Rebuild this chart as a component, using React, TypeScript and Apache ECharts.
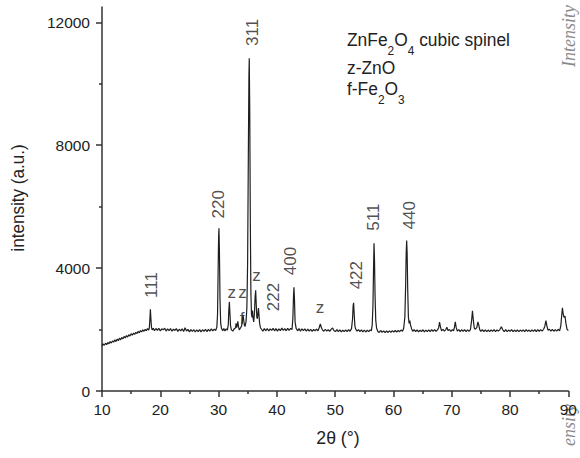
import React, { useEffect, useRef } from "react";
import * as echarts from "echarts";

// XRD pattern: [2θ (deg), intensity (a.u.)]
const pattern: [number, number][] = [
  [10.0,1470],[10.2,1530],[10.4,1490],[10.6,1555],[10.8,1510],[11.0,1580],[11.2,1535],[11.4,1610],[11.6,1560],[11.8,1630],
  [12.0,1590],[12.2,1665],[12.4,1610],[12.6,1690],[12.8,1640],[13.0,1720],[13.2,1665],[13.4,1745],[13.6,1700],[13.8,1775],
  [14.0,1730],[14.2,1805],[14.4,1755],[14.6,1830],[14.8,1790],[15.0,1865],[15.2,1815],[15.4,1885],[15.6,1840],[15.8,1910],
  [16.0,1870],[16.2,1940],[16.4,1895],[16.6,1965],[16.8,1925],[17.0,1990],[17.2,1945],[17.4,2010],[17.6,1960],[17.8,2030],
  [18.0,1980],[18.12,2060],[18.22,2350],[18.3,2660],[18.38,2380],[18.48,2090],[18.6,1990],[18.8,2040],
  [19.0,1960],[19.25,2035],[19.5,1975],[19.75,2040],[20.0,1955],[20.25,2025],[20.5,1990],[20.75,2045],[21.0,1950],[21.25,2020],
  [21.5,1965],[21.75,2035],[22.0,1945],[22.25,2015],[22.5,1970],[22.75,2030],[23.0,1940],[23.25,2010],[23.5,1955],[23.75,2025],
  [24.0,1935],[24.25,2060],[24.5,1950],[24.75,2005],[25.0,1925],[25.25,2000],[25.5,1940],[25.75,1995],[26.0,1920],[26.25,1990],
  [26.5,1935],[26.75,2000],[27.0,1925],[27.25,1995],[27.5,1940],[27.75,2010],[28.0,1935],[28.25,2005],[28.5,1950],[28.75,2020],
  [29.0,1955],[29.25,2015],[29.5,1970],
  [29.7,2080],[29.82,2500],[29.92,3900],[30.0,5000],[30.06,5300],[30.14,4600],[30.24,3000],[30.36,2200],[30.5,2040],
  [30.7,1960],[30.9,2030],[31.1,1955],[31.3,2025],[31.5,1980],[31.66,2150],[31.76,2650],[31.85,2900],[31.94,2550],
  [32.05,2120],[32.2,1990],[32.45,1950],[32.7,2030],[32.9,2050],[33.0,2200],[33.1,2060],[33.22,2150],[33.3,2270],
  [33.4,2110],[33.55,1990],[33.75,2050],[33.95,2120],[34.08,2300],[34.2,2470],[34.3,2320],[34.42,2150],[34.55,2100],
  [34.7,2250],[34.85,2700],[34.98,4200],[35.1,7600],[35.2,10200],[35.26,10830],[35.34,9200],[35.44,5600],[35.54,3200],
  [35.64,2500],[35.74,2400],[35.82,2620],[35.9,2400],[36.02,2250],[36.14,2500],[36.26,3050],[36.36,3280],[36.46,2800],
  [36.56,2400],[36.66,2350],[36.76,2550],[36.84,2700],[36.92,2500],[37.04,2200],[37.18,2060],
  [37.35,2010],[37.6,1950],[37.85,2030],[38.1,1960],[38.35,2035],[38.6,1955],[38.85,2025],[39.1,1970],[39.35,2040],
  [39.6,1960],[39.85,2030],[40.1,1950],[40.35,2020],[40.6,1965],[40.85,2045],[41.1,1970],[41.35,2030],[41.6,1960],
  [41.85,2040],[42.1,1975],[42.35,2035],[42.6,2000],
  [42.75,2400],[42.85,3100],[42.93,3380],[43.02,2950],[43.12,2250],
  [43.3,2040],[43.55,1960],[43.8,2030],[44.05,1950],[44.3,2025],[44.55,1965],[44.8,2020],[45.05,1945],[45.3,2015],
  [45.55,1950],[45.8,2010],[46.05,1940],[46.3,2005],[46.55,1955],[46.8,2015],[47.05,1960],[47.25,2060],[47.45,2180],
  [47.6,2080],[47.8,1990],[48.05,1945],[48.3,2010],[48.55,1950],[48.8,2000],[49.05,1940],[49.3,2005],[49.55,2050],
  [49.8,1960],[50.05,1935],[50.3,1995],[50.55,1930],[50.8,1990],[51.05,1925],[51.3,1985],[51.55,1930],[51.8,1990],
  [52.05,1935],[52.3,1995],[52.55,1945],[52.8,2030],
  [52.98,2350],[53.08,2780],[53.16,2870],[53.26,2500],[53.38,2120],
  [53.5,2020],[53.75,1950],[54.0,1995],[54.25,1930],[54.5,1990],[54.75,1925],[55.0,1985],[55.25,1920],[55.5,1980],
  [55.75,1930],[56.0,1990],[56.2,1960],
  [56.35,2150],[56.48,2800],[56.58,4000],[56.66,4810],[56.74,4300],[56.84,3100],[56.96,2300],
  [57.1,2050],[57.3,1945],[57.55,1905],[57.8,1970],[58.05,1910],[58.3,1960],[58.55,1900],[58.8,1955],[59.05,1905],
  [59.3,1960],[59.55,1910],[59.8,1965],[60.05,1915],[60.3,1970],[60.55,1920],[60.8,1975],[61.05,1930],[61.3,1985],
  [61.55,1945],[61.75,2040],
  [61.95,2400],[62.08,3400],[62.18,4500],[62.26,4900],[62.34,4500],[62.44,3300],[62.56,2400],[62.68,2200],[62.8,2290],
  [62.92,2150],[63.1,2030],[63.3,1945],[63.55,2000],[63.8,1930],[64.05,1990],[64.3,1925],[64.55,1985],[64.8,1930],
  [65.05,1995],[65.3,1925],[65.55,1980],[65.8,1935],[66.05,1990],[66.3,1930],[66.55,1995],[66.8,1940],[67.05,2000],
  [67.3,1945],[67.55,1990],[67.75,2060],[67.9,2240],[68.05,2090],[68.25,1960],[68.5,2005],[68.75,1945],[69.0,2010],
  [69.15,2080],[69.35,1970],[69.6,2000],[69.85,1940],[70.1,1995],[70.3,1960],[70.45,2070],[70.6,2250],[70.75,2070],
  [70.95,1950],[71.2,2000],[71.45,1935],[71.7,1995],[71.95,1940],[72.2,2000],[72.45,1935],[72.7,1990],[72.95,1945],
  [73.2,2000],[73.4,2300],[73.55,2610],[73.68,2340],[73.85,2050],[74.05,2010],[74.3,2070],[74.48,2250],[74.62,2160],
  [74.8,1990],[75.0,1945],[75.25,2000],[75.5,1935],[75.75,1990],[76.0,1930],[76.25,1985],[76.5,1935],[76.75,1990],
  [77.0,1940],[77.25,1995],[77.5,1935],[77.75,1985],[78.0,1950],[78.25,2000],[78.5,2090],[78.75,1990],[79.0,1935],
  [79.25,1995],[79.5,1930],[79.75,1985],[80.0,1940],[80.25,1995],[80.5,1930],[80.75,1985],[81.0,1935],[81.25,1990],
  [81.5,1930],[81.75,1985],[82.0,1940],[82.25,1990],[82.5,1935],[82.75,1995],[83.0,1940],[83.25,1985],[83.5,1930],
  [83.75,1990],[84.0,1940],[84.25,1995],[84.5,1935],[84.75,2000],[85.0,1945],[85.25,2000],[85.5,1950],[85.75,2010],
  [85.95,2100],[86.15,2290],[86.3,2130],[86.5,1980],[86.75,2010],[87.0,1950],[87.25,2005],[87.5,1945],[87.75,2000],
  [88.0,1950],[88.25,2010],[88.5,1960],[88.7,2120],[88.85,2450],[88.98,2710],[89.1,2520],[89.25,2400],[89.42,2440],
  [89.58,2200],[89.78,2000],[90.0,1970],
];

// Miller index labels (rotated)
const hklText = ["111", "220", "311", "222", "400", "422", "511", "440"];
const hklX = [18.5, 29.9, 35.8, 39.4, 42.3, 53.65, 56.6, 62.7];
const hklY = [3450, 6080, 11675, 3060, 4230, 3770, 5660, 5720];

// Phase markers (upright)
const phaseText = ["z", "z", "f", "z", "z"];
const phaseX = [32.25, 34.1, 34.05, 36.5, 47.4];
const phaseY = [3220, 3220, 2370, 3770, 2730];

// Axis ticks
const xMin = 10, xMax = 90, xStep = 10;
const yMin = 0, yMax = 12500;
const yMajorTicks = [0, 4000, 8000, 12000];
const yMinorTicks = [2000, 6000, 10000];

const SANS = "'Liberation Sans', Arial, Helvetica, sans-serif";
const SERIF = "'Liberation Serif', 'DejaVu Serif', serif";
const INK = "#222";
const AXIS = "#333";

export default function App() {
  const ref = useRef<HTMLDivElement>(null);

  useEffect(() => {
    if (!ref.current) return;
    const chart = echarts.init(ref.current, undefined, { renderer: "svg" });

    const labelBase = {
      show: true,
      position: "inside" as const,
      fontSize: 17,
      fontFamily: SANS,
      color: INK,
      formatter: (p: any) => p.data[2],
    };

    const sub = { fontSize: 13, lineHeight: 13, fontFamily: SANS, fill: INK, verticalAlign: "top", padding: [14, 0, 0, 0] };
    const main = { fontSize: 19, lineHeight: 20, fontFamily: SANS, fill: INK, verticalAlign: "top" };

    chart.setOption({
      animation: false,
      backgroundColor: "#fff",
      grid: { left: 102, right: 7, top: 7, bottom: 67, containLabel: false },
      xAxis: {
        type: "value",
        min: xMin,
        max: xMax,
        interval: xStep,
        axisLine: { show: true, lineStyle: { color: AXIS, width: 1.5 } },
        axisTick: { show: true, length: 6, lineStyle: { color: AXIS, width: 1.5 } },
        minorTick: { show: true, splitNumber: 2, length: 3, lineStyle: { color: AXIS, width: 1.5 } },
        axisLabel: { fontSize: 15.5, fontFamily: SANS, color: INK, margin: 10 },
        splitLine: { show: false },
      },
      yAxis: [
        {
          type: "value",
          min: yMin,
          max: yMax,
          position: "left",
          axisLine: { show: true, lineStyle: { color: AXIS, width: 1.5 } },
          axisTick: { show: true, length: 6, customValues: yMajorTicks, lineStyle: { color: AXIS, width: 1.5 } },
          axisLabel: {
            customValues: yMajorTicks,
            formatter: (v: number) => String(v),
            fontSize: 15.5,
            fontFamily: SANS,
            color: INK,
            margin: 12,
          },
          splitLine: { show: false },
        },
        {
          type: "value",
          min: yMin,
          max: yMax,
          position: "left",
          offset: 0,
          axisLine: { show: false },
          axisTick: { show: true, length: 3, customValues: yMinorTicks, lineStyle: { color: AXIS, width: 1.5 } },
          axisLabel: { show: false },
          splitLine: { show: false },
        },
      ],
      series: [
        {
          type: "line",
          data: pattern,
          showSymbol: false,
          symbol: "none",
          lineStyle: { color: "#1e1e1e", width: 1.2 },
          silent: true,
          z: 2,
        },
        {
          type: "scatter",
          data: hklText.map((t, i) => [hklX[i], hklY[i], t]),
          symbolSize: 0.1,
          itemStyle: { color: "transparent" },
          label: { ...labelBase, rotate: 90 },
          silent: true,
          z: 3,
        },
        {
          type: "scatter",
          data: phaseText.map((t, i) => [phaseX[i], phaseY[i], t]),
          symbolSize: 0.1,
          itemStyle: { color: "transparent" },
          label: { ...labelBase, rotate: 0 },
          silent: true,
          z: 3,
        },
      ],
      graphic: [
        {
          type: "text",
          x: 18,
          y: 198,
          rotation: Math.PI / 2,
          scaleX: 0.95,
          style: { text: "intensity (a.u.)", fontSize: 18, fontFamily: SANS, fill: INK, align: "center", verticalAlign: "middle" },
        },
        {
          type: "text",
          x: 338,
          y: 437,
          scaleX: 0.93,
          style: { text: "2θ (°)", fontSize: 19, fontFamily: SANS, fill: INK, align: "center", verticalAlign: "middle" },
        },
        {
          type: "text",
          x: 347,
          y: 30,
          scaleX: 0.915,
          style: {
            text: "{a|ZnFe}{s|2}{a|O}{s|4}{a| cubic spinel}",
            rich: { a: main, s: sub },
          },
        },
        {
          type: "text",
          x: 347,
          y: 58,
          scaleX: 0.915,
          style: {
            text: "{a|z-ZnO}",
            rich: { a: main },
          },
        },
        {
          type: "text",
          x: 347,
          y: 79,
          scaleX: 0.915,
          style: {
            text: "{a|f-Fe}{s|2}{a|O}{s|3}",
            rich: { a: main, s: sub },
          },
        },
        {
          type: "text",
          x: 569,
          y: 5,
          rotation: Math.PI / 2,
          style: { text: "Intensity", fontSize: 18, fontFamily: SERIF, fontStyle: "italic", fill: "#8a8a8a", align: "right", verticalAlign: "middle" },
        },
        {
          type: "text",
          x: 569,
          y: 404,
          rotation: Math.PI / 2,
          style: { text: "ensity", fontSize: 18, fontFamily: SERIF, fontStyle: "italic", fill: "#8a8a8a", align: "right", verticalAlign: "middle" },
        },
      ],
    });

    return () => chart.dispose();
  }, []);

  return (
    <div
      ref={ref}
      style={{ position: "fixed", left: 0, top: 0, width: 580, height: 458, background: "#fff" }}
    />
  );
}
